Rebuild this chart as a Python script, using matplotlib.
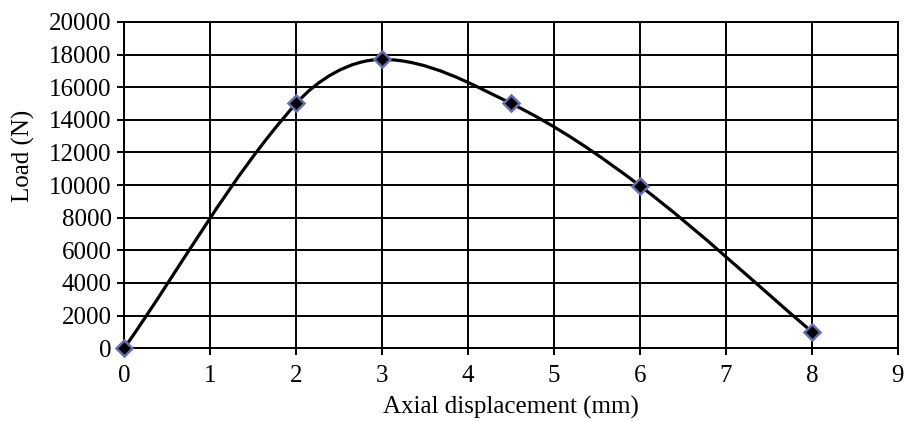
import matplotlib
matplotlib.use("Agg")
import matplotlib.pyplot as plt
import numpy as np
from matplotlib.path import Path
from matplotlib.patches import PathPatch

# data
displacement = [0, 2, 3, 4.5, 6, 8]
load = [0, 15000, 17700, 15000, 9950, 1000]

plt.rcParams['font.family'] = ['Liberation Serif', 'DejaVu Serif']

fig = plt.figure(figsize=(9.07, 4.21), dpi=100)
ax = fig.add_axes([0.137, 0.173, 0.853, 0.775])
ax.set_xlim(0, 9)
ax.set_ylim(0, 20000)

# smoothed line, built in screen space so the curve has no kinks
pts = ax.transData.transform(np.column_stack([displacement, load]))
n = len(pts)
tang = []
for i in range(n):
    a = pts[max(i - 1, 0)]
    b = pts[min(i + 1, n - 1)]
    d = b - a
    tang.append(d / np.hypot(*d))
verts = [tuple(pts[0])]
codes = [Path.MOVETO]
for i in range(n - 1):
    seg = np.hypot(*(pts[i + 1] - pts[i]))
    c1 = pts[i] + tang[i] * seg / 3.0
    c2 = pts[i + 1] - tang[i + 1] * seg / 3.0
    verts += [tuple(c1), tuple(c2), tuple(pts[i + 1])]
    codes += [Path.CURVE4] * 3
inv = ax.transData.inverted()
verts = [tuple(inv.transform(v)) for v in verts]
ax.add_patch(PathPatch(Path(verts, codes), facecolor='none', edgecolor='black',
                       lw=2.3, zorder=3, capstyle='round'))

ax.plot(displacement, load, linestyle='none', marker='D', markersize=8,
        markerfacecolor='black', markeredgecolor='#6a6ab0', markeredgewidth=1.8,
        zorder=4, clip_on=False)

ax.set_xticks(range(0, 10))
ax.set_yticks(range(0, 20001, 2000))
ax.grid(True, color='black', linewidth=1.4)
ax.set_axisbelow(True)
for s in ax.spines.values():
    s.set_linewidth(1.4)
ax.tick_params(direction='out', length=5, width=1.4, labelsize=18, pad=4)
ax.tick_params(axis='x', pad=7)

ax.set_xlabel('Axial displacement (mm)', fontsize=18)
ax.set_ylabel('Load (N)', fontsize=18)
ax.xaxis.set_label_coords(0.5, -0.145)
ax.yaxis.set_label_coords(-0.115, 0.59)

plt.savefig('out.png', dpi=100)
